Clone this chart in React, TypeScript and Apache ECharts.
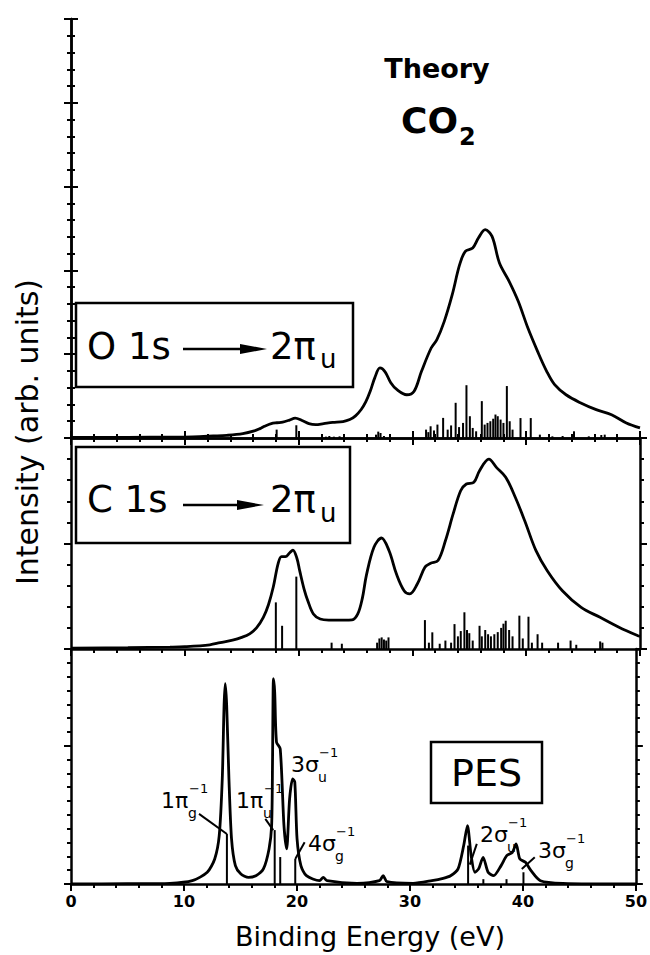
import React, { useEffect, useRef } from "react";
import * as echarts from "echarts";

// ---------- data (energy in eV, intensity in arbitrary units) ----------
const energyTicks = [0, 10, 20, 30, 40, 50];

const o1sCurve: [number, number][] = [
  [0, 0.03], [5, 0.04], [8.8, 0.05], [10.7, 0.07], [12.5, 0.12], [13.7, 0.16], [15.1, 0.26],
  [16.1, 0.42], [16.6, 0.56], [17.0, 0.7], [17.6, 0.86], [18.1, 0.91], [18.6, 0.95], [19.2, 1.07],
  [19.7, 1.19], [20.3, 1.04], [20.9, 0.86], [21.5, 0.8], [22.2, 0.86], [23.0, 0.93], [23.9, 0.98],
  [24.5, 1.1], [25.0, 1.32], [25.5, 1.7], [25.9, 2.15], [26.3, 2.8], [26.7, 3.6], [27.15, 4.18],
  [27.6, 3.95], [28.1, 3.3], [28.65, 2.88], [29.5, 2.58], [30.15, 2.79], [30.8, 3.98], [31.65, 5.37],
  [32.15, 5.87], [32.8, 6.96], [33.5, 8.55], [34.15, 10.34], [34.65, 11.14], [35.3, 11.34],
  [35.8, 11.93], [36.4, 12.43], [37.0, 12.03], [37.65, 10.44], [38.5, 9.35], [39.3, 8.16],
  [40.15, 6.56], [41.0, 5.17], [41.8, 3.98], [42.5, 3.18], [43.5, 2.58], [44.8, 2.09], [46.15, 1.69],
  [47.5, 1.39], [48.8, 0.9], [50, 0.6],
];

const o1sSticks: [number, number][] = [
  [18.07, 0.5], [19.8, 0.76], [22.4, 0.08], [22.7, 0.12], [23.1, 0.08], [23.6, 0.1], [26.8, 0.2],
  [27.0, 0.38], [27.2, 0.3], [27.5, 0.12], [31.2, 0.5], [31.4, 0.35], [31.6, 0.7], [31.9, 0.45],
  [32.2, 0.8], [32.7, 1.2], [33.1, 0.5], [33.4, 0.75], [33.8, 2.1], [34.1, 0.65], [34.45, 0.9],
  [34.75, 3.15], [35.05, 1.3], [35.3, 0.6], [35.6, 0.4], [36.1, 2.2], [36.35, 0.8], [36.6, 0.9],
  [36.85, 1.0], [37.1, 1.15], [37.3, 1.4], [37.5, 1.3], [37.75, 1.1], [38.0, 0.9], [38.3, 3.1],
  [38.55, 1.0], [38.8, 0.5], [39.5, 1.19], [40.4, 1.19], [41.2, 0.2], [42.3, 0.1], [43.2, 0.12],
  [44.2, 0.4], [45.5, 0.1], [46.6, 0.18], [46.9, 0.2],
];

const c1sCurve: [number, number][] = [
  [0, 0.04], [5, 0.06], [8.7, 0.09], [10, 0.11], [12.2, 0.2], [13.1, 0.3], [14.2, 0.42], [15.0, 0.55],
  [15.7, 0.72], [16.3, 1.0], [16.9, 1.5], [17.35, 2.1], [17.78, 2.95], [18.2, 4.05], [18.5, 4.38],
  [18.84, 4.38], [19.2, 4.55], [19.5, 4.69], [19.85, 4.3], [20.1, 3.7], [20.5, 2.8], [20.8, 2.3],
  [21.3, 1.66], [21.9, 1.42], [22.65, 1.37], [23.4, 1.37], [24.0, 1.37], [24.7, 1.38], [25.2, 1.66],
  [25.6, 2.4], [25.96, 3.5], [26.62, 4.82], [27.28, 5.26], [27.95, 4.66], [28.6, 3.55], [29.27, 2.76],
  [29.77, 2.61], [30.43, 3.08], [31.1, 3.87], [31.6, 4.06], [32.25, 4.19], [32.9, 5.13], [33.58, 6.4],
  [34.24, 7.5], [34.74, 7.82], [35.4, 7.9], [35.9, 8.45], [36.72, 9.0], [37.38, 8.61], [38.2, 8.14],
  [39.04, 7.19], [39.87, 6.08], [40.86, 4.66], [41.85, 3.71], [43.18, 2.76], [44.83, 1.97],
  [46.49, 1.5], [48.15, 1.03], [49.8, 0.63], [50, 0.6],
];

const c1sSticks: [number, number][] = [
  [18.0, 2.21], [18.55, 1.1], [19.8, 3.43], [22.9, 0.3], [23.8, 0.25], [26.9, 0.3], [27.1, 0.5],
  [27.3, 0.55], [27.5, 0.45], [27.7, 0.4], [27.9, 0.55], [31.1, 1.37], [31.45, 0.3], [31.75, 0.79],
  [32.4, 0.25], [32.9, 0.4], [33.4, 0.3], [33.7, 1.18], [34.0, 0.6], [34.25, 0.85], [34.57, 1.74],
  [34.8, 0.9], [35.0, 0.75], [35.3, 0.4], [35.9, 1.1], [36.1, 0.6], [36.4, 0.9], [36.65, 0.7],
  [36.9, 0.6], [37.2, 0.7], [37.5, 0.8], [37.8, 1.0], [38.0, 1.2], [38.2, 1.34], [38.5, 0.9],
  [38.8, 0.6], [39.4, 1.58], [39.7, 0.5], [40.2, 1.53], [40.5, 0.3], [41.0, 0.7], [41.4, 0.3],
  [42.8, 0.3], [43.9, 0.4], [44.4, 0.2], [46.5, 0.36], [46.7, 0.3],
];

const pesCurve: [number, number][] = [
  [0, 0], [5, 0.02], [8.75, 0.05], [10.74, 0.24], [12.06, 0.85], [12.72, 1.81], [13.12, 3.5],
  [13.39, 7.61], [13.55, 12.92], [13.65, 14.49], [13.78, 12.92], [13.98, 7.61], [14.21, 3.26],
  [14.55, 1.33], [15.04, 0.72], [15.71, 0.48], [16.37, 0.6], [17.03, 1.09], [17.53, 2.54],
  [17.76, 4.23], [17.84, 9.0], [17.92, 14.86], [18.03, 13.89], [18.19, 10.27], [18.52, 9.78],
  [18.85, 4.23], [19.09, 2.54], [19.35, 6.16], [19.62, 7.61], [19.81, 7.37], [20.01, 3.26],
  [20.35, 1.33], [20.84, 0.6], [22.0, 0.24], [22.33, 0.48], [22.66, 0.24], [25.31, 0.05],
  [27.3, 0.24], [27.63, 0.6], [27.97, 0.17], [30.28, 0.05], [31.94, 0.24], [32.94, 0.41],
  [33.6, 0.6], [34.26, 1.09], [34.76, 2.78], [35.09, 4.23], [35.42, 2.05], [35.75, 0.85],
  [36.08, 1.09], [36.48, 1.93], [36.92, 0.85], [37.41, 0.6], [38.07, 1.33], [38.57, 2.05],
  [39.07, 2.29], [39.4, 2.9], [39.73, 1.81], [40.23, 1.57], [40.72, 0.97], [41.55, 0.24],
  [43.54, 0.05], [50, 0],
];

const pesSticks: [number, number][] = [
  [13.8, 3.62], [18.03, 3.9], [18.52, 1.95], [19.85, 1.81], [35.15, 2.78], [36.5, 0.35],
  [38.55, 0.35], [40.05, 0.85],
];

// leader lines: [x1, y1, x2, y2]
const pesLeaders: [number, number, number, number][] = [
  [11.33, 5.07, 13.8, 3.62],
  [17.2, 4.71, 17.9, 3.9],
  [20.68, 3.02, 19.85, 1.81],
  [35.92, 2.9, 35.3, 1.4],
  [41.05, 1.93, 39.9, 1.09],
];

// ---------- chart ----------
const FONT = "DejaVu Sans";
const BLACK = "#000";

const axisLine = { show: true, lineStyle: { color: BLACK, width: 2.5 } };

function xAxisFor(gridIndex: number, position: "top" | "bottom", showLabels: boolean) {
  return {
    type: "value",
    gridIndex,
    position,
    min: energyTicks[0],
    max: energyTicks[energyTicks.length - 1],
    interval: energyTicks[1] - energyTicks[0],
    axisLine,
    axisTick: { show: true, length: 7, lineStyle: { color: BLACK, width: 2 } },
    minorTick: { show: true, splitNumber: 5, length: 4, lineStyle: { color: BLACK, width: 2 } },
    splitLine: { show: false },
    minorSplitLine: { show: false },
    axisLabel: showLabels
      ? { show: true, color: BLACK, fontFamily: FONT, fontWeight: "bold", fontSize: 16, margin: 9 }
      : { show: false },
  };
}

function yAxisFor(
  gridIndex: number,
  position: "left" | "right",
  max: number,
  interval: number,
  minor: boolean,
  tickLen: number,
  showLine: boolean
) {
  return {
    type: "value",
    gridIndex,
    position,
    min: 0,
    max,
    interval,
    axisLine: showLine ? axisLine : { show: false },
    axisTick: { show: true, length: tickLen, lineStyle: { color: BLACK, width: 2 } },
    minorTick: minor
      ? { show: true, splitNumber: 5, length: 4, lineStyle: { color: BLACK, width: 2 } }
      : { show: false },
    splitLine: { show: false },
    minorSplitLine: { show: false },
    axisLabel: { show: false },
  };
}

function curveSeries(data: [number, number][], xi: number, yi: number, smooth: number) {
  return {
    type: "line",
    xAxisIndex: xi,
    yAxisIndex: yi,
    data,
    symbol: "none",
    showSymbol: false,
    smooth,
    lineStyle: { color: BLACK, width: 2.8 },
    z: 3,
  };
}

function stickSeries(data: [number, number][], xi: number, yi: number, w: number) {
  return {
    type: "custom",
    xAxisIndex: xi,
    yAxisIndex: yi,
    data,
    encode: { x: 0, y: 1 },
    renderItem: (_p: any, api: any) => {
      const a = api.coord([api.value(0), 0]);
      const b = api.coord([api.value(0), api.value(1)]);
      return {
        type: "line",
        shape: { x1: a[0], y1: a[1], x2: b[0], y2: b[1] },
        style: { stroke: BLACK, lineWidth: w },
      };
    },
    z: 2,
  };
}

function leaderSeries(data: [number, number, number, number][], xi: number, yi: number) {
  return {
    type: "custom",
    xAxisIndex: xi,
    yAxisIndex: yi,
    data,
    encode: { x: [0, 2], y: [1, 3] },
    renderItem: (_p: any, api: any) => {
      const a = api.coord([api.value(0), api.value(1)]);
      const b = api.coord([api.value(2), api.value(3)]);
      return {
        type: "line",
        shape: { x1: a[0], y1: a[1], x2: b[0], y2: b[1] },
        style: { stroke: BLACK, lineWidth: 2 },
      };
    },
    z: 4,
  };
}

function txt(text: string, x: number, y: number, size: number, align = "left", weight = "normal", extra: any = {}) {
  return {
    type: "text",
    x,
    y,
    z: 10,
    ...extra,
    style: {
      text,
      fill: BLACK,
      fontFamily: FONT,
      fontSize: size,
      fontWeight: weight,
      align,
      verticalAlign: "middle",
      textAlign: align,
      textVerticalAlign: "middle",
    },
  };
}

function arrow(x1: number, x2: number, y: number) {
  return [
    { type: "line", z: 10, shape: { x1, y1: y, x2: x2 - 20, y2: y }, style: { stroke: BLACK, lineWidth: 2.5 } },
    {
      type: "polygon",
      z: 10,
      shape: { points: [[x2 - 27, y - 5], [x2, y], [x2 - 27, y + 5]] },
      style: { fill: BLACK },
    },
  ];
}

function box(x: number, y: number, w: number, h: number) {
  return {
    type: "rect",
    z: 9,
    shape: { x, y, width: w, height: h },
    style: { fill: "#fff", stroke: BLACK, lineWidth: 2.5 },
  };
}

function label(main: string, sub: string, x: number, y: number) {
  return [
    txt(main, x, y, 22),
    txt("\u22121", x + 28, y - 12, 13),
    txt(sub, x + 27, y + 13, 14),
  ];
}

export default function App() {
  const ref = useRef<HTMLDivElement>(null);

  useEffect(() => {
    if (!ref.current) return;
    const chart = echarts.init(ref.current, undefined, { renderer: "svg" });

    const option: any = {
      animation: false,
      backgroundColor: "#fff",
      grid: [
        { left: 71, top: 19, width: 569, height: 419 },
        { left: 71, top: 438, width: 569, height: 211 },
        { left: 71, top: 649, width: 569, height: 235 },
      ],
      xAxis: [
        xAxisFor(0, "bottom", false),
        xAxisFor(0, "top", false),
        xAxisFor(1, "bottom", false),
        xAxisFor(2, "bottom", true),
      ],
      yAxis: [
        yAxisFor(0, "left", 25, 5, true, 7, true),
        yAxisFor(0, "right", 25, 5, true, 7, true),
        yAxisFor(1, "left", 10, 5, true, 7, true),
        yAxisFor(1, "right", 10, 5, true, 7, true),
        yAxisFor(2, "left", 17, 1, false, 4, true),
        yAxisFor(2, "right", 17, 1, false, 4, true),
        yAxisFor(2, "left", 17, 10, false, 7, false),
        yAxisFor(2, "right", 17, 10, false, 7, false),
      ],
      series: [
        curveSeries(o1sCurve, 0, 0, 0.35),
        stickSeries(o1sSticks, 0, 0, 2),
        curveSeries(c1sCurve, 2, 2, 0.35),
        stickSeries(c1sSticks, 2, 2, 2),
        curveSeries(pesCurve, 3, 4, 0.25),
        stickSeries(pesSticks, 3, 4, 2),
        leaderSeries(pesLeaders, 3, 4),
      ],
      graphic: [
        // axis titles
        txt("Intensity (arb. units)", 27, 432, 30, "center", "normal", { rotation: Math.PI / 2 }),
        txt("Binding Energy (eV)", 370, 936, 27, "center"),
        // top panel titles
        txt("Theory", 437, 68, 27, "center", "bold"),
        txt("CO", 401, 120, 36, "left", "bold"),
        txt("2", 459, 137, 24, "left", "bold"),
        // O 1s box
        box(76, 303, 277, 84),
        txt("O 1s", 87, 346, 37),
        ...arrow(183, 267, 349),
        txt("2\u03c0", 270, 346, 37),
        txt("u", 320, 359, 26),
        // C 1s box
        box(76, 447, 274, 96),
        txt("C 1s", 87, 499, 37),
        ...arrow(183, 264, 505),
        txt("2\u03c0", 270, 499, 37),
        txt("u", 320, 513, 26),
        // PES box
        box(431, 742, 111, 61),
        txt("PES", 486.5, 773, 38, "center"),
        // orbital labels
        ...label("1\u03c0", "g", 161, 800),
        ...label("1\u03c0", "u", 236, 800),
        ...label("3\u03c3", "u", 291, 764),
        ...label("4\u03c3", "g", 308, 843),
        ...label("2\u03c3", "u", 480, 834),
        ...label("3\u03c3", "g", 538, 850),
      ],
    };

    chart.setOption(option);
    return () => chart.dispose();
  }, []);

  return (
    <div
      ref={ref}
      style={{ position: "fixed", left: 0, top: 0, width: 650, height: 955, background: "#fff" }}
    />
  );
}
